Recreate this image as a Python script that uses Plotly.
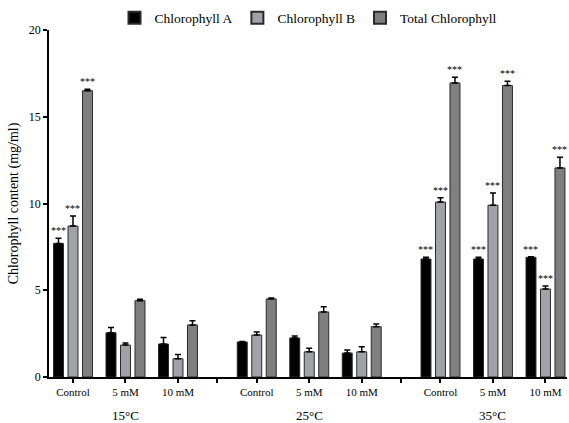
import plotly.graph_objects as go

# ---- data ----
temps = ["15°C", "25°C", "35°C"]
treatments = ["Control", "5 mM", "10 mM"]
series_names = ["Chlorophyll A", "Chlorophyll B", "Total Chlorophyll"]

chl_a = [7.7, 2.55, 1.9, 2.02, 2.25, 1.38, 6.8, 6.8, 6.9]
chl_a_err = [0.3, 0.3, 0.38, 0.03, 0.12, 0.17, 0.1, 0.1, 0.03]
chl_b = [8.7, 1.84, 1.05, 2.42, 1.45, 1.45, 10.08, 9.9, 5.07]
chl_b_err = [0.58, 0.12, 0.25, 0.18, 0.2, 0.3, 0.25, 0.7, 0.18]
chl_t = [16.5, 4.4, 3.0, 4.5, 3.75, 2.9, 16.95, 16.8, 12.05]
chl_t_err = [0.08, 0.08, 0.24, 0.05, 0.3, 0.15, 0.33, 0.25, 0.62]

# significance marks ("***" or "")
sig_a = ["***", "", "", "", "", "", "***", "***", "***"]
sig_b = ["***", "", "", "", "", "", "***", "***", "***"]
sig_t = ["***", "", "", "", "", "", "***", "***", "***"]

colors = ["#000000", "#a1a1a8", "#7f7f7f"]
FONT = "Liberation Serif, Times New Roman, serif"

# x positions: groups separated by 3.5 units
xpos = [g * 3.5 + c for g in range(3) for c in range(3)]
sep_pos = [2.75, 6.25]
width = 0.19
step = 0.276

fig = go.Figure()
values = [chl_a, chl_b, chl_t]
errs = [chl_a_err, chl_b_err, chl_t_err]
sigs = [sig_a, sig_b, sig_t]
for k in range(3):
    fig.add_trace(go.Bar(
        x=xpos, y=values[k], name=series_names[k],
        width=width, offset=(k - 1) * step - width / 2,
        marker=dict(color=colors[k], line=dict(color="#2a2a2a", width=1)),
        error_y=dict(type="data", symmetric=False, array=errs[k],
                     arrayminus=[0] * 9, color="#000000", thickness=1.5, width=3),
    ))
    for i, s in enumerate(sigs[k]):
        if s:
            fig.add_annotation(
                x=xpos[i] + (k - 1) * step, y=values[k][i] + errs[k][i],
                text=s, showarrow=False, yanchor="bottom", yshift=0,
                font=dict(family=FONT, size=10, color="#000000"),
            )

# group labels
for g, t in enumerate(temps):
    fig.add_annotation(
        x=g * 3.5 + 1, y=0, yref="y", text=t, showarrow=False,
        yshift=-38, font=dict(family=FONT, size=13, color="#000000"),
    )

tickvals = xpos + sep_pos
ticktext = treatments * 3 + ["", ""]

fig.update_layout(
    width=569, height=423,
    margin=dict(l=49, r=2, t=30, b=46, autoexpand=False),
    plot_bgcolor="white", paper_bgcolor="white",
    barmode="overlay",
    showlegend=True,
    legend=dict(orientation="h", x=0.5, xanchor="center", y=1.035, yanchor="middle",
                font=dict(family=FONT, size=13.5, color="#000000"),
                itemsizing="constant", traceorder="normal"),
    font=dict(family=FONT, color="#000000"),
)
fig.update_xaxes(
    range=[-0.457, 9.41], tickmode="array", tickvals=tickvals, ticktext=ticktext,
    ticks="outside", ticklen=4, tickwidth=1.5, tickcolor="#000000",
    showline=True, linecolor="#000000", linewidth=1.5, showgrid=False, zeroline=False,
    tickfont=dict(family=FONT, size=11, color="#000000"),
)
fig.update_yaxes(
    range=[0, 20], tickvals=[0, 5, 10, 15, 20],
    ticks="outside", ticklen=4, tickwidth=1.5, tickcolor="#000000",
    showline=True, linecolor="#000000", linewidth=1.5, showgrid=False, zeroline=False,
    tickfont=dict(family=FONT, size=12, color="#000000"),
    title=dict(text="Chlorophyll content (mg/ml)", font=dict(family=FONT, size=14, color="#000000"), standoff=7),
)

fig.write_html("out.html", config={"displayModeBar": False},
               post_script="document.body.style.margin='0px';")
